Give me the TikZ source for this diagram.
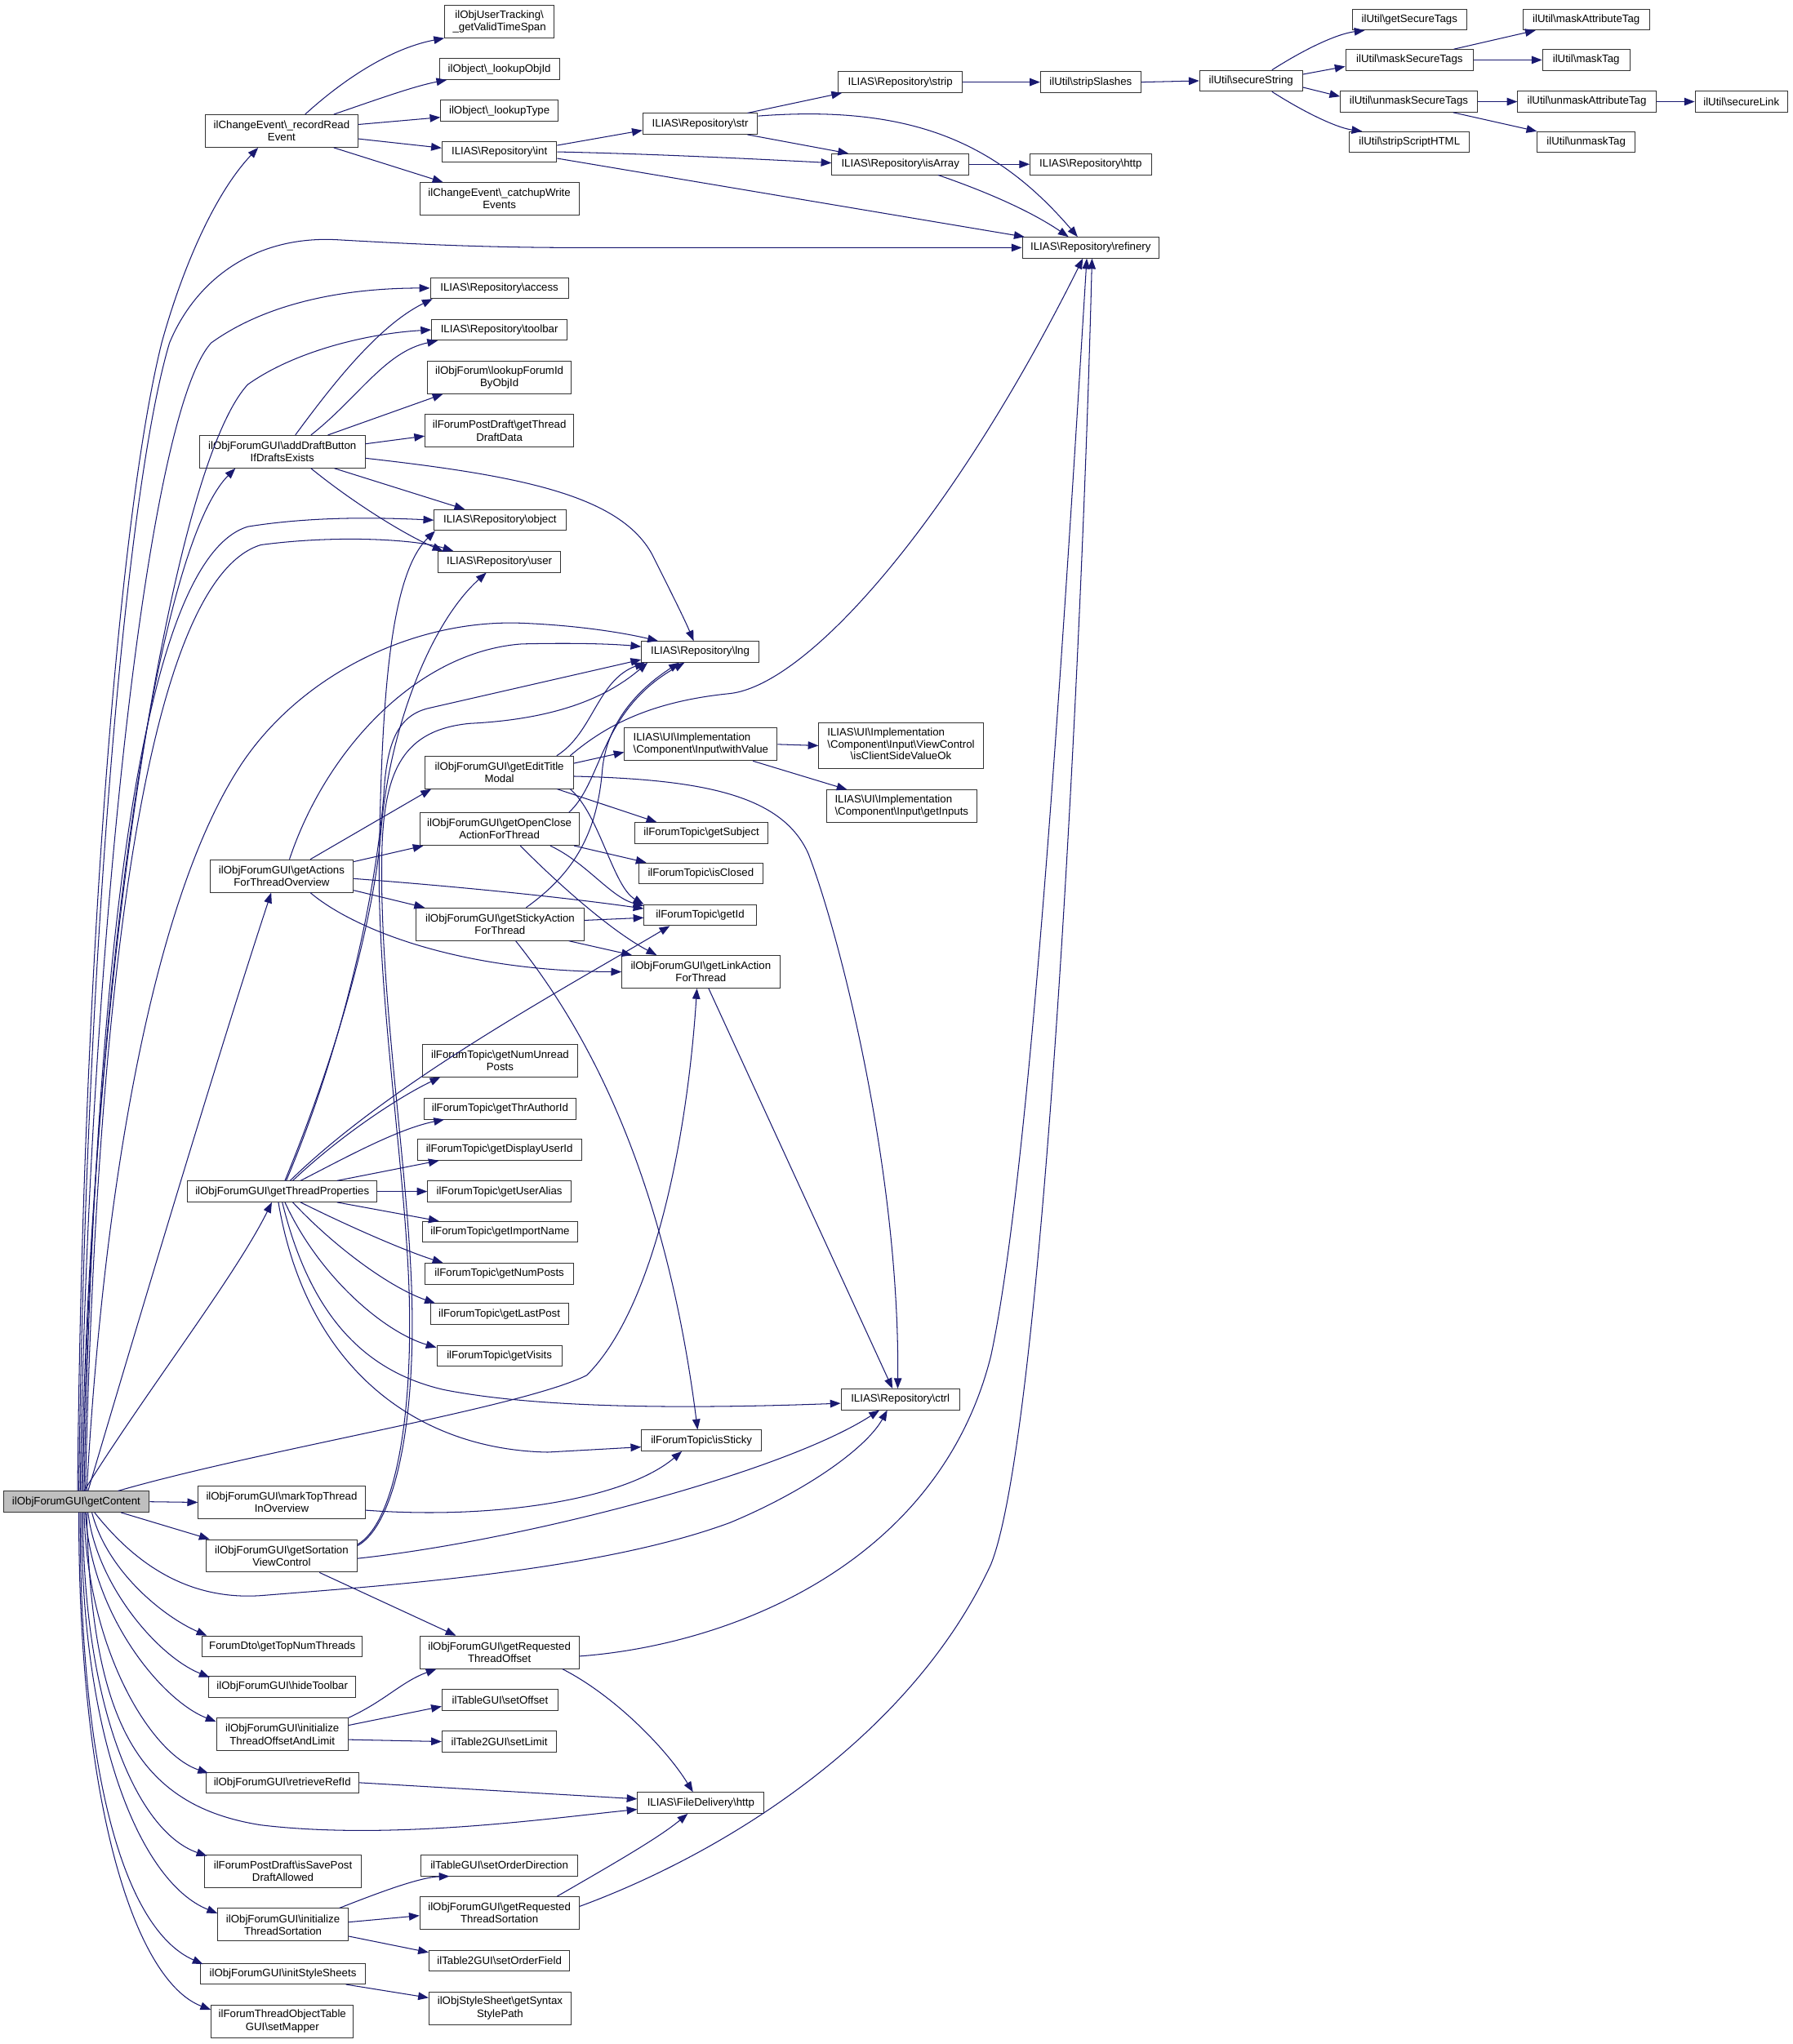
\documentclass[tikz,border=0pt]{standalone}
\usepackage{fontspec}
\setmainfont{Liberation Sans}
\usetikzlibrary{arrows.meta,calc}
\definecolor{edgec}{HTML}{191970}
\newcommand{\bks}{\textbackslash}
\begin{document}
\begin{tikzpicture}[x=1pt,y=-1pt,
  cgbox/.style={draw=black!80, line width=0.6pt, fill=white, rectangle, inner sep=1pt,
    font=\fontsize{8.3}{9.5}\selectfont, align=center, minimum height=16pt},
  two/.style={minimum height=25pt},
  cgedge/.style={draw=edgec, line width=0.65pt, -{Triangle[length=8pt,width=6pt]}}]
\fill[white] (0,0) rectangle (1375,1568);
\useasboundingbox (0,0) rectangle (1375,1568);
% column 1
\node[cgbox, fill=black!25, minimum width=112pt] (A) at (58.5,1152) {ilObjForumGUI\bks getContent};
% column 2
\node[cgbox, two, minimum width=117pt] (B1) at (216,100.5) {ilChangeEvent\bks\_recordRead\\Event};
\node[cgbox, two, minimum width=127pt] (B2) at (216.5,346.5) {ilObjForumGUI\bks addDraftButton\\IfDraftsExists};
\node[cgbox, two, minimum width=110pt] (B3) at (216,672) {ilObjForumGUI\bks getActions\\ForThreadOverview};
\node[cgbox, minimum width=145pt] (B4) at (216.5,914) {ilObjForumGUI\bks getThreadProperties};
\node[cgbox, two, minimum width=128pt] (B5) at (216,1152.5) {ilObjForumGUI\bks markTopThread\\InOverview};
\node[cgbox, two, minimum width=116pt] (B6) at (216,1193.5) {ilObjForumGUI\bks getSortation\\ViewControl};
\node[cgbox, minimum width=123pt] (B7) at (216.5,1263) {ForumDto\bks getTopNumThreads};
\node[cgbox, minimum width=113pt] (B8) at (216.5,1294) {ilObjForumGUI\bks hideToolbar};
\node[cgbox, two, minimum width=101pt] (B9) at (216.5,1330.5) {ilObjForumGUI\bks initialize\\ThreadOffsetAndLimit};
\node[cgbox, minimum width=117pt] (B10) at (216.5,1367.5) {ilObjForumGUI\bks retrieveRefId};
\node[cgbox, two, minimum width=120pt] (B11) at (217,1435.5) {ilForumPostDraft\bks isSavePost\\DraftAllowed};
\node[cgbox, two, minimum width=100pt] (B12) at (217,1476.5) {ilObjForumGUI\bks initialize\\ThreadSortation};
\node[cgbox, minimum width=126pt] (B13) at (217,1514) {ilObjForumGUI\bks initStyleSheets};
\node[cgbox, two, minimum width=109pt] (B14) at (216.5,1550.5) {ilForumThreadObjectTable\\GUI\bks setMapper};
% column 3
\node[cgbox, two, minimum width=84pt] (C1) at (383,16.5) {ilObjUserTracking\bks\\\_getValidTimeSpan};
\node[cgbox, minimum width=92pt] (C2) at (383,53) {ilObject\bks\_lookupObjId};
\node[cgbox, minimum width=90pt] (C3) at (383,85) {ilObject\bks\_lookupType};
\node[cgbox, minimum width=88pt] (C4) at (383,116.5) {ILIAS\bks Repository\bks int};
\node[cgbox, two, minimum width=122pt] (C5) at (383,152.5) {ilChangeEvent\bks\_catchupWrite\\Events};
\node[cgbox, minimum width=106pt] (C6) at (383,221) {ILIAS\bks Repository\bks access};
\node[cgbox, minimum width=104pt] (C7) at (383,253) {ILIAS\bks Repository\bks toolbar};
\node[cgbox, two, minimum width=110pt] (C8) at (383,289.5) {ilObjForum\bks lookupForumId\\ByObjId};
\node[cgbox, two, minimum width=114pt] (C9) at (383,330.5) {ilForumPostDraft\bks getThread\\DraftData};
\node[cgbox, minimum width=101pt] (C10) at (383.5,399) {ILIAS\bks Repository\bks object};
\node[cgbox, minimum width=94pt] (C11) at (383,431) {ILIAS\bks Repository\bks user};
\node[cgbox, two, minimum width=114pt] (C12) at (383,592.5) {ilObjForumGUI\bks getEditTitle\\Modal};
\node[cgbox, two, minimum width=122pt] (C13) at (383,636) {ilObjForumGUI\bks getOpenClose\\ActionForThread};
\node[cgbox, two, minimum width=129pt] (C14) at (383.5,709) {ilObjForumGUI\bks getStickyAction\\ForThread};
\node[cgbox, two, minimum width=119pt] (C15) at (383.5,813.5) {ilForumTopic\bks getNumUnread\\Posts};
\node[cgbox, minimum width=117pt] (C16) at (383.5,850.5) {ilForumTopic\bks getThrAuthorId};
\node[cgbox, minimum width=126pt] (C17) at (383,882) {ilForumTopic\bks getDisplayUserId};
\node[cgbox, minimum width=110pt] (C18) at (383,914) {ilForumTopic\bks getUserAlias};
\node[cgbox, minimum width=119pt] (C19) at (383.5,945) {ilForumTopic\bks getImportName};
\node[cgbox, minimum width=114pt] (C20) at (383,977) {ilForumTopic\bks getNumPosts};
\node[cgbox, minimum width=106pt] (C21) at (383,1008) {ilForumTopic\bks getLastPost};
\node[cgbox, minimum width=96pt] (C22) at (383,1040) {ilForumTopic\bks getVisits};
\node[cgbox, two, minimum width=122pt] (C23) at (383,1267.5) {ilObjForumGUI\bks getRequested\\ThreadOffset};
\node[cgbox, minimum width=89pt] (C24) at (383.5,1304) {ilTableGUI\bks setOffset};
\node[cgbox, minimum width=88pt] (C25) at (383,1336) {ilTable2GUI\bks setLimit};
\node[cgbox, minimum width=120pt] (C26) at (383,1431) {ilTableGUI\bks setOrderDirection};
\node[cgbox, two, minimum width=122pt] (C27) at (383,1467.5) {ilObjForumGUI\bks getRequested\\ThreadSortation};
\node[cgbox, minimum width=108pt] (C28) at (383,1504) {ilTable2GUI\bks setOrderField};
\node[cgbox, two, minimum width=109pt] (C29) at (383.5,1540.5) {ilObjStyleSheet\bks getSyntax\\StylePath};
% column 4
\node[cgbox, minimum width=88pt] (D1) at (537,95) {ILIAS\bks Repository\bks str};
\node[cgbox, minimum width=90pt] (D2) at (537,500) {ILIAS\bks Repository\bks lng};
\node[cgbox, two, minimum width=117pt, align=left] (D3) at (537.5,571) {ILIAS\bks UI\bks Implementation\\\bks Component\bks Input\bks withValue};
\node[cgbox, minimum width=102pt] (D4) at (538,639) {ilForumTopic\bks getSubject};
\node[cgbox, minimum width=95pt] (D5) at (537.5,670) {ilForumTopic\bks isClosed};
\node[cgbox, minimum width=86pt] (D6) at (537,702) {ilForumTopic\bks getId};
\node[cgbox, two, minimum width=121pt] (D7) at (537.5,745.5) {ilObjForumGUI\bks getLinkAction\\ForThread};
\node[cgbox, minimum width=92pt] (D8) at (538,1105) {ilForumTopic\bks isSticky};
\node[cgbox, minimum width=97pt] (D9) at (537.5,1383) {ILIAS\bks FileDelivery\bks http};
% column 5
\node[cgbox, minimum width=95pt] (E1) at (690.5,63) {ILIAS\bks Repository\bks strip};
\node[cgbox, minimum width=105pt] (E2) at (690.5,126) {ILIAS\bks Repository\bks isArray};
\node[cgbox, minimum height=35pt, minimum width=126pt] (E3) at (691,572) {\def\arraystretch{0.95}\begin{tabular}{@{}l@{}}ILIAS\bks UI\bks Implementation\\\bks Component\bks Input\bks ViewControl\\\multicolumn{1}{@{}c@{}}{\bks isClientSideValueOk}\end{tabular}};
\node[cgbox, two, minimum width=115pt, align=left] (E4) at (691.5,618.5) {ILIAS\bks UI\bks Implementation\\\bks Component\bks Input\bks getInputs};
\node[cgbox, minimum width=91pt] (E5) at (690.5,1073.5) {ILIAS\bks Repository\bks ctrl};
% column 6
\node[cgbox, minimum width=77pt] (F1) at (836.5,63) {ilUtil\bks stripSlashes};
\node[cgbox, minimum width=93pt] (F2) at (836.5,126) {ILIAS\bks Repository\bks http};
\node[cgbox, minimum width=105pt] (F3) at (836.5,190) {ILIAS\bks Repository\bks refinery};
% right part
\node[cgbox, minimum width=79pt] (G1) at (959.5,62) {ilUtil\bks secureString};
\node[cgbox, minimum width=88pt] (H1) at (1081,15) {ilUtil\bks getSecureTags};
\node[cgbox, minimum width=98pt] (H2) at (1081,46) {ilUtil\bks maskSecureTags};
\node[cgbox, minimum width=105pt] (H3) at (1080.5,78) {ilUtil\bks unmaskSecureTags};
\node[cgbox, minimum width=92pt] (H4) at (1081,109) {ilUtil\bks stripScriptHTML};
\node[cgbox, minimum width=97pt] (I1) at (1216.5,15) {ilUtil\bks maskAttributeTag};
\node[cgbox, minimum width=67pt] (I2) at (1216.5,46) {ilUtil\bks maskTag};
\node[cgbox, minimum width=106pt] (I3) at (1217,78) {ilUtil\bks unmaskAttributeTag};
\node[cgbox, minimum width=75pt] (I4) at (1216.5,109) {ilUtil\bks unmaskTag};
\node[cgbox, minimum width=71pt] (J1) at (1335.5,78) {ilUtil\bks secureLink};

% ===== edges from getContent (top bundle)
\draw[cgedge] ($(A.north)+(1,0)$) .. controls (63,760) and (90,400) .. (124,263) .. controls (140,205) and (165,148) .. ($(B1.south)+(-18,0)$);
\draw[cgedge] ($(A.north)+(2,0)$) .. controls (65,760) and (95,380) .. (130,263) .. controls (150,215) and (195,180) .. (260,184) .. controls (330,188) and (380,190) .. (450,190) -- (F3.west);
\draw[cgedge] ($(A.north)+(3,0)$) .. controls (67,760) and (110,320) .. (162,263) .. controls (205,232) and (265,221) .. (C6.west);
\draw[cgedge] ($(A.north)+(4,0)$) .. controls (69,760) and (130,360) .. (190,295) .. controls (225,270) and (280,256) .. (C7.west);
\draw[cgedge] ($(A.north)+(5,0)$) .. controls (70,760) and (120,420) .. ($(B2.south)+(-36,0)$);
\draw[cgedge] ($(A.north)+(6,0)$) .. controls (72,760) and (105,430) .. (190,404) .. controls (240,396) and (290,397) .. (C10.west);
\draw[cgedge] ($(A.north)+(7,0)$) .. controls (74,760) and (112,445) .. (200,418) .. controls (260,410) and (320,414) .. ($(C11.north west)+(12,0)$);
\draw[cgedge] ($(A.north)+(8,0)$) .. controls (80,900) and (120,680) .. (188,582) .. controls (235,515) and (320,475) .. (400,478) .. controls (450,480) and (485,487) .. ($(D2.north west)+(13,0)$);
\draw[cgedge] ($(A.north)+(9,0)$) .. controls (110,1000) and (170,800) .. ($(B3.south)+(-8,0)$);
\draw[cgedge] ($(A.north)+(6,0)$) .. controls (110,1070) and (180,980) .. ($(B4.south)+(-8,0)$);
\draw[cgedge] ($(A.north)+(32,0)$) .. controls (200,1112) and (400,1080) .. (450,1055) .. controls (505,1000) and (528,860) .. ($(D7.south)+(-3,0)$);
\draw[cgedge] (A.east) -- (B5.west);
\draw[cgedge] ($(A.south east)+(-22,0)$) -- ($(B6.north west)+(3,0)$);
\draw[cgedge] ($(A.south)+(14,0)$) .. controls (100,1195) and (140,1228) .. (200,1224) .. controls (300,1216) and (460,1205) .. (560,1168) .. controls (620,1143) and (665,1110) .. ($(E5.south)+(-10,0)$);
% bottom bundle
\draw[cgedge] ($(A.south)+(12,0)$) .. controls (82,1205) and (125,1240) .. ($(B7.north west)+(4,0)$);
\draw[cgedge] ($(A.south)+(9,0)$) .. controls (74,1215) and (120,1270) .. ($(B8.north west)+(1,1)$);
\draw[cgedge] ($(A.south)+(7,0)$) .. controls (70,1240) and (125,1305) .. ($(B9.north west)+(0,3)$);
\draw[cgedge] ($(A.south)+(6,0)$) .. controls (67,1265) and (115,1345) .. ($(B10.north west)+(2,1)$);
\draw[cgedge] ($(A.south)+(8,0)$) .. controls (70,1320) and (105,1385) .. (200,1400) .. controls (300,1412) and (420,1395) .. ($(D9.west)+(0,5)$);
\draw[cgedge] ($(A.south)+(5,0)$) .. controls (64,1310) and (105,1405) .. ($(B11.north west)+(2,1)$);
\draw[cgedge] ($(A.south)+(4,0)$) .. controls (62,1340) and (110,1445) .. ($(B12.north west)+(0,4)$);
\draw[cgedge] ($(A.south)+(3,0)$) .. controls (61,1360) and (95,1480) .. ($(B13.north west)+(2,1)$);
\draw[cgedge] ($(A.south)+(2,0)$) .. controls (60,1390) and (105,1520) .. ($(B14.north west)+(0,4)$);

% ===== recordReadEvent
\draw[cgedge] ($(B1.north)+(18,0)$) .. controls (270,55) and (305,36) .. (C1.south west);
\draw[cgedge] ($(B1.north)+(40,0)$) .. controls (290,76) and (318,66) .. ($(C2.south west)+(6,0)$);
\draw[cgedge] ($(B1.east)+(0,-5)$) -- ($(C3.west)+(0,5)$);
\draw[cgedge] ($(B1.east)+(0,6)$) -- ($(C4.west)+(0,-3)$);
\draw[cgedge] ($(B1.south)+(40,0)$) -- ($(C5.north west)+(18,0)$);
% ===== int, str, ...
\draw[cgedge] ($(C4.east)+(0,-5)$) -- ($(D1.west)+(0,5)$);
\draw[cgedge] (C4.east) .. controls (500,118) and (580,122) .. ($(E2.west)+(0,-1)$);
\draw[cgedge] ($(C4.east)+(0,5)$) -- ($(F3.north west)+(2,0)$);
\draw[cgedge] ($(D1.north east)+(-8,0)$) -- ($(E1.south west)+(3,0)$);
\draw[cgedge] ($(D1.south east)+(-8,0)$) -- ($(E2.north west)+(13,0)$);
\draw[cgedge] ($(D1.east)+(0,-6)$) .. controls (700,80) and (765,110) .. ($(F3.north)+(-10,0)$);
\draw[cgedge] (E1.east) -- (F1.west);
\draw[cgedge] (F1.east) -- (G1.west);
\draw[cgedge] (E2.east) -- (F2.west);
\draw[cgedge] ($(E2.south)+(29,0)$) .. controls (765,150) and (795,165) .. ($(F3.north)+(-17,0)$);
\draw[cgedge] ($(G1.north)+(16,0)$) .. controls (1000,38) and (1025,26) .. ($(H1.south west)+(10,0)$);
\draw[cgedge] ($(G1.east)+(0,-5)$) -- ($(H2.west)+(0,5)$);
\draw[cgedge] ($(G1.east)+(0,5)$) -- ($(H3.west)+(0,-4)$);
\draw[cgedge] ($(G1.south)+(16,0)$) .. controls (1000,86) and (1025,98) .. ($(H4.north west)+(10,0)$);
\draw[cgedge] ($(H2.north)+(34,0)$) -- ($(I1.south west)+(10,0)$);
\draw[cgedge] (H2.east) -- (I2.west);
\draw[cgedge] (H3.east) -- (I3.west);
\draw[cgedge] ($(H3.south)+(34,0)$) -- (I4.north west);
\draw[cgedge] (I3.east) -- (J1.west);

% ===== addDraftButtonIfDraftsExists
\draw[cgedge] ($(B2.north)+(10,0)$) .. controls (255,295) and (290,250) .. ($(C6.south west)+(2,0)$);
\draw[cgedge] ($(B2.north)+(22,0)$) .. controls (275,305) and (295,270) .. ($(C7.south west)+(5,0)$);
\draw[cgedge] ($(B2.north)+(35,0)$) -- ($(C8.south west)+(12,0)$);
\draw[cgedge] ($(B2.east)+(0,-6)$) -- ($(C9.west)+(0,4)$);
\draw[cgedge] ($(B2.east)+(0,5)$) .. controls (400,365) and (475,380) .. (500,425) .. controls (515,455) and (525,475) .. ($(D2.north)+(-5,0)$);
\draw[cgedge] ($(B2.south)+(40,0)$) -- ($(C10.north)+(-27,0)$);
\draw[cgedge] ($(B2.south)+(22,0)$) .. controls (270,385) and (310,410) .. ($(C11.north west)+(4,0)$);

% ===== getActionsForThreadOverview
\draw[cgedge] ($(B3.north)+(6,0)$) .. controls (250,575) and (320,500) .. (400,494) .. controls (440,493) and (470,494) .. ($(D2.west)+(0,-4)$);
\draw[cgedge] ($(B3.north)+(22,0)$) -- ($(C12.south west)+(5,0)$);
\draw[cgedge] ($(B3.east)+(0,-11)$) -- ($(C13.south west)+(3,0)$);
\draw[cgedge] ($(B3.east)+(0,2)$) .. controls (350,680) and (430,688) .. ($(D6.west)+(0,-5)$);
\draw[cgedge] ($(B3.east)+(0,11)$) -- ($(C14.north west)+(7,0)$);
\draw[cgedge] ($(B3.south)+(22,0)$) .. controls (270,712) and (350,745) .. (D7.west);

% ===== getEditTitleModal
\draw[cgedge] ($(C12.north)+(44,0)$) .. controls (455,562) and (458,522) .. ($(D2.south west)+(3,0)$);
\draw[cgedge] ($(C12.north east)+(-3,0)$) .. controls (465,556) and (500,538) .. (560,532) .. controls (620,525) and (730,400) .. ($(F3.south)+(-6,0)$);
\draw[cgedge] ($(C12.east)+(0,-7)$) -- ($(D3.west)+(0,6)$);
\draw[cgedge] ($(C12.east)+(0,3)$) .. controls (540,598) and (600,610) .. (620,655) .. controls (645,720) and (690,900) .. ($(E5.north)+(-2,0)$);
\draw[cgedge] ($(C12.south east)+(-13,0)$) -- ($(D4.north west)+(17,0)$);
\draw[cgedge] ($(C12.south east)+(-3,0)$) .. controls (460,625) and (470,680) .. (D6.north west);
% ===== getOpenCloseActionForThread
\draw[cgedge] ($(C13.north east)+(-8,0)$) .. controls (462,600) and (460,545) .. ($(D2.south)+(-12,0)$);
\draw[cgedge] ($(C13.south east)+(-4,0)$) -- ($(D5.north west)+(6,0)$);
\draw[cgedge] ($(C13.south)+(39,0)$) .. controls (450,662) and (468,688) .. ($(D6.west)+(0,-7)$);
\draw[cgedge] ($(C13.south)+(16,0)$) .. controls (430,680) and (470,715) .. ($(D7.north west)+(27,0)$);
% ===== getStickyActionForThread
\draw[cgedge] ($(C14.north)+(20,0)$) .. controls (440,670) and (458,640) .. (462,590) .. controls (466,550) and (495,525) .. ($(D2.south)+(-16,0)$);
\draw[cgedge] ($(C14.east)+(0,-3)$) -- ($(D6.west)+(0,2)$);
\draw[cgedge] ($(C14.south east)+(-12,0)$) -- ($(D7.north west)+(8,0)$);
\draw[cgedge] ($(C14.south)+(12,0)$) .. controls (450,790) and (510,900) .. ($(D8.north)+(-3,0)$);

% ===== getThreadProperties
\draw[cgedge] ($(B4.north)+(2,0)$) .. controls (262,800) and (287,700) .. (292,640) .. controls (298,560) and (330,478) .. ($(C11.south)+(-10,0)$);
\draw[cgedge] ($(B4.north)+(3,0)$) .. controls (264,800) and (290,680) .. (295,600) .. controls (298,568) and (306,548) .. (330,543) -- ($(D2.west)+(0,6)$);
\draw[cgedge] ($(B4.north)+(6,0)$) .. controls (300,830) and (430,760) .. ($(D6.south west)+(20,0)$);
\draw[cgedge] ($(B4.north)+(8,0)$) .. controls (260,872) and (305,842) .. ($(C15.south west)+(14,0)$);
\draw[cgedge] ($(B4.north)+(14,0)$) .. controls (265,888) and (305,866) .. ($(C16.south west)+(16,0)$);
\draw[cgedge] ($(B4.north)+(42,0)$) -- ($(C17.south west)+(17,0)$);
\draw[cgedge] (B4.east) -- (C18.west);
\draw[cgedge] ($(B4.south)+(42,0)$) -- ($(C19.north west)+(13,0)$);
\draw[cgedge] ($(B4.south)+(14,0)$) .. controls (270,942) and (312,960) .. ($(C20.north west)+(14,0)$);
\draw[cgedge] ($(B4.south)+(8,0)$) .. controls (258,958) and (300,988) .. ($(C21.north west)+(4,0)$);
\draw[cgedge] ($(B4.south)+(2,0)$) .. controls (245,980) and (295,1022) .. ($(C22.north west)+(0,2)$);
\draw[cgedge] (B4.south) .. controls (238,1010) and (280,1052) .. (340,1066) .. controls (420,1082) and (550,1080) .. ($(E5.west)+(0,3)$);
\draw[cgedge] ($(B4.south)+(-3,0)$) .. controls (235,1050) and (320,1112) .. (420,1114) -- ($(D8.west)+(0,5)$);

% ===== markTopThreadInOverview
\draw[cgedge] ($(B5.east)+(0,6)$) .. controls (380,1166) and (480,1150) .. ($(D8.south)+(-15,0)$);
% ===== getSortationViewControl
\draw[cgedge] ($(B6.north east)+(0,4)$) .. controls (300,1170) and (316,1100) .. (314,1000) .. controls (312,900) and (288,760) .. (291,650) .. controls (293,530) and (300,440) .. ($(C10.south west)+(1,0)$);
\draw[cgedge] ($(B6.north east)+(0,5)$) .. controls (301,1171) and (318,1100) .. (316,1000) .. controls (314,900) and (290,760) .. (293,650) .. controls (295,590) and (310,560) .. (360,555) .. controls (420,552) and (462,538) .. ($(D2.south west)+(5,0)$);
\draw[cgedge] ($(B6.east)+(0,2)$) .. controls (400,1182) and (600,1130) .. ($(E5.south)+(-16,0)$);
\draw[cgedge] ($(B6.south)+(29,0)$) -- ($(C23.north west)+(28,0)$);

% ===== initializeThreadOffsetAndLimit
\draw[cgedge] (B9.north east) .. controls (295,1305) and (308,1290) .. ($(C23.south west)+(13,0)$);
\draw[cgedge] ($(B9.east)+(0,-7)$) -- ($(C24.west)+(0,5)$);
\draw[cgedge] ($(B9.east)+(0,4)$) -- (C25.west);
% ===== retrieveRefId
\draw[cgedge] (B10.east) -- ($(D9.west)+(0,-3)$);
% ===== getRequestedThreadOffset
\draw[cgedge] ($(C23.south east)+(-13,0)$) .. controls (470,1300) and (510,1340) .. ($(D9.north)+(-6,0)$);
\draw[cgedge] ($(C23.east)+(0,3)$) .. controls (560,1262) and (720,1200) .. (760,1040) .. controls (790,900) and (815,500) .. ($(F3.south)+(-3,0)$);
% ===== initializeThreadSortation
\draw[cgedge] ($(B12.north east)+(-7,0)$) .. controls (290,1452) and (322,1440) .. ($(C26.south west)+(22,0)$);
\draw[cgedge] ($(B12.east)+(0,-2)$) -- ($(C27.west)+(0,2)$);
\draw[cgedge] ($(B12.south east)+(0,-4)$) -- ($(C28.north west)+(0,2)$);
% ===== getRequestedThreadSortation
\draw[cgedge] ($(C27.north east)+(-17,0)$) .. controls (470,1430) and (505,1410) .. ($(D9.south)+(-10,0)$);
\draw[cgedge] ($(C27.east)+(0,-5)$) .. controls (560,1420) and (700,1330) .. (760,1200) .. controls (800,1100) and (830,500) .. ($(F3.south)+(1,0)$);
% ===== initStyleSheets
\draw[cgedge] ($(B13.south east)+(-15,0)$) -- ($(C29.west)+(0,-8)$);
% ===== withValue
\draw[cgedge] (D3.east) -- (E3.west);
\draw[cgedge] ($(D3.south)+(40,0)$) -- ($(E4.north west)+(16,0)$);
% ===== getLinkActionForThread
\draw[cgedge] ($(D7.south)+(6,0)$) -- ($(E5.north)+(-6,0)$);
\end{tikzpicture}
\end{document}
